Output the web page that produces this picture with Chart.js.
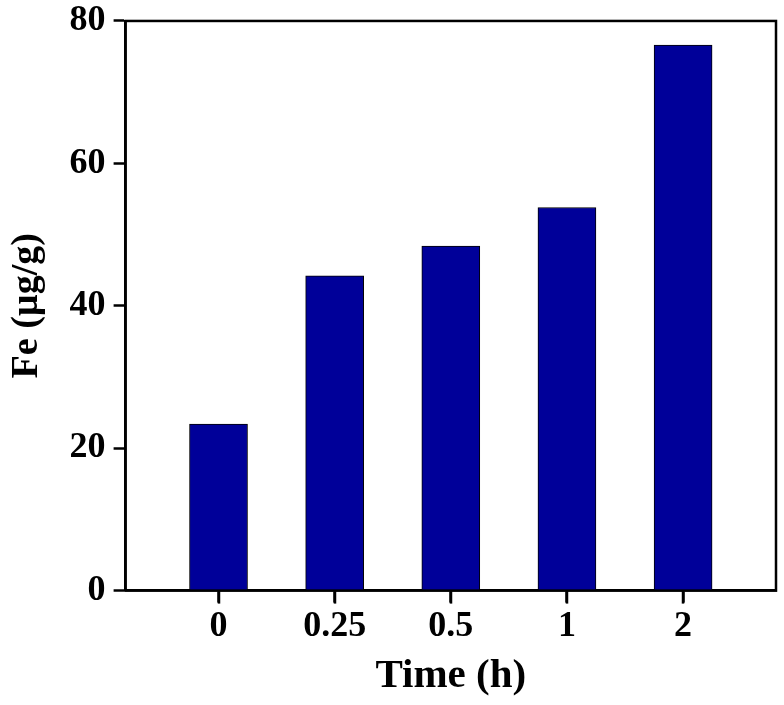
<!DOCTYPE html>
<html>
<head>
<meta charset="utf-8">
<script src="https://cdn.jsdelivr.net/npm/chart.js@4/dist/chart.umd.min.js"></script>
<style>
  body { margin: 0; background: #fff; }
  #wrap { width: 784px; height: 705px; }
</style>
</head>
<body>
<div id="wrap"><canvas id="feChart" width="784" height="705"></canvas></div>
<script>
// --- data ---
const timeLabels = ["0", "0.25", "0.5", "1", "2"];
const feValues = [23.4, 44.2, 48.4, 53.8, 76.6];
const yTicks = [0, 20, 40, 60, 80];

const FONT = "'Liberation Serif', 'Times New Roman', serif";

// closed box round the plot, plus the short outward ticks under each bar
const frameBox = {
  id: "frameBox",
  afterDraw(chart) {
    const a = chart.chartArea, ctx = chart.ctx;
    const xs = chart.scales.x;
    ctx.save();
    ctx.strokeStyle = "#000";
    ctx.lineWidth = 2.5;
    ctx.strokeRect(a.left, a.top, a.right - a.left, a.bottom - a.top);
    timeLabels.forEach((_, i) => {
      const px = Math.round(xs.getPixelForValue(i));
      ctx.beginPath();
      ctx.moveTo(px, a.bottom);
      ctx.lineTo(px, a.bottom + 13);
      ctx.stroke();
    });
    ctx.restore();
  }
};

new Chart(document.getElementById("feChart"), {
  type: "bar",
  data: {
    datasets: [{
      data: feValues.map((v, i) => ({ x: i, y: v })),
      backgroundColor: "#000099",
      borderColor: "#000000",
      borderWidth: 1,
      barThickness: 58
    }]
  },
  plugins: [frameBox],
  options: {
    responsive: false,
    animation: false,
    layout: { padding: { left: 0, right: 8, top: 0, bottom: 0 } },
    plugins: { legend: { display: false }, tooltip: { enabled: false } },
    scales: {
      x: {
        type: "linear",
        offset: false,
        min: -0.8,
        max: 4.8,
        afterBuildTicks: (s) => { s.ticks = timeLabels.map((_, i) => ({ value: i })); },
        ticks: {
          callback: (v) => timeLabels[v],
          color: "#000",
          font: { family: FONT, size: 36, weight: "bold" },
          padding: 3,
          maxRotation: 0
        },
        grid: { offset: false, drawOnChartArea: false, tickLength: 12, tickWidth: 2.5, tickColor: "#000" },
        border: { color: "#000", width: 2.5 },
        title: {
          display: true,
          text: "Time (h)",
          color: "#000",
          font: { family: FONT, size: 41, weight: "bold" },
          padding: { top: 0 }
        }
      },
      y: {
        min: 0,
        max: 80,
        afterBuildTicks: (s) => { s.ticks = yTicks.map((v) => ({ value: v })); },
        ticks: {
          color: "#000",
          font: { family: FONT, size: 36, weight: "bold", lineHeight: 0.72 },
          padding: 8
        },
        grid: { drawOnChartArea: false, tickLength: 12, tickWidth: 2.5, tickColor: "#000" },
        border: { color: "#000", width: 2.5 },
        title: {
          display: true,
          text: "Fe (µg/g)",
          color: "#000",
          font: { family: FONT, size: 38, weight: "bold" },
          padding: { bottom: 12 }
        }
      }
    }
  }
});
</script>
</body>
</html>
